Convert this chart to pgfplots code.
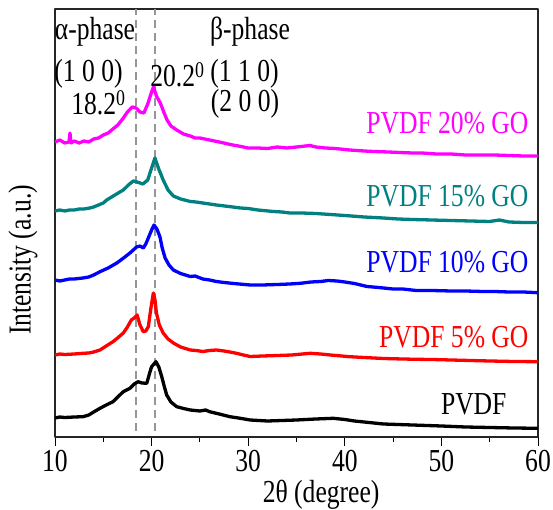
\documentclass[border=0pt]{standalone}
\usepackage{fontspec}
\setmainfont{Liberation Serif}[FakeStretch=0.8]
\usepackage{pgfplots}
\pgfplotsset{compat=1.18}
\definecolor{gomag}{RGB}{255,0,255}
\definecolor{goteal}{RGB}{0,128,128}
\definecolor{goblue}{RGB}{0,0,255}
\definecolor{gored}{RGB}{255,0,0}
\definecolor{dashgray}{RGB}{150,150,150}

\begin{document}
\begin{tikzpicture}[font=\fontsize{32bp}{38bp}\selectfont]
  \begin{axis}[
      scale only axis,
      width=483bp, height=428bp,
      xmin=10, xmax=60,
      ymin=0, ymax=428,
      xtick={10,20,30,40,50,60},
      minor xtick={15,25,35,45,55},
      ytick=\empty,
      xtick pos=bottom,
      tick align=outside,
      major tick length=9bp,
      minor tick length=5bp,
      every tick/.style={black, line width=1bp},
      axis line style={line width=1.2bp, black!85},
      /pgf/number format/assume math mode=true,
      xticklabel style={yshift=-1bp},
      xlabel={2θ (degree)},
      xlabel style={at={(rel axis cs:0.551,0)}, anchor=center, yshift=-58bp},
      every node/.append style={inner sep=0pt},
      line join=round,
    ]

    % dashed guide lines
    \addplot[dashgray, line width=2.2bp, dash pattern=on 8bp off 5bp] coordinates {(18.4,6) (18.4,428)};
    \addplot[dashgray, line width=2.2bp, dash pattern=on 8bp off 5bp] coordinates {(20.35,6) (20.35,428)};

    % PVDF 20% GO
    \addplot[gomag, line width=3.3bp] coordinates {
      (10,295) (10.5,297) (11,294) (11.45,295) (11.55,304) (11.65,294) (12,296)
      (12.5,294) (13,296) (13.5,295) (14,298) (14.5,299) (15,302) (15.5,304)
      (16,308) (16.5,312) (17,318) (17.5,325) (18,330) (18.4,329) (18.8,325)
      (19.2,324) (19.6,333) (20,345) (20.2,350) (20.5,341) (20.9,334) (21.3,324)
      (21.6,317) (22,311) (22.6,307) (23.3,303) (24,301) (24.5,299) (25,299)
      (26,297) (27,295) (28.4,292) (29,291) (30,289) (31,289) (32,288.5) (33,290)
      (34,289) (35,290) (36.4,291.5) (37,290) (38,289) (39,288.5) (40.5,287)
      (42,286) (43,285.5) (44.5,285) (45.7,284.5) (47,284) (48,284) (49.5,283)
      (51,283) (52.5,282) (54,282) (55.5,282) (57,281.5) (58.5,281) (60,281)
    };

    % PVDF 15% GO
    \addplot[goteal, line width=3.3bp] coordinates {
      (10,226) (10.5,227) (11,226) (11.5,227) (12,227) (12.5,228) (13,228)
      (13.6,229) (14,230) (14.5,232) (15,234) (15.35,237) (16.2,242)
      (17.07,247) (17.6,252) (18.1,256) (18.5,255) (19.1,253) (19.6,257)
      (20,269) (20.35,279) (20.7,269) (21.2,257) (21.7,247) (22.25,241)
      (23,238) (24,235.5) (24.6,235) (25.3,234) (26,233) (26.7,232) (28,230.5)
      (29.2,229) (30,228.5) (31,227) (32.6,225.5) (33.5,225) (34.3,224)
      (35.5,224) (37,223.5) (38.5,222.5) (40,221.5) (42,220) (44,219)
      (45.5,218) (47,217.5) (49,217) (51,216.5) (53,216) (55,215.5) (56,217)
      (57,215) (58.5,214.5) (60,214.5)
    };

    % PVDF 10% GO
    \addplot[goblue, line width=3.3bp] coordinates {
      (10,157) (10.5,156) (11,157) (11.5,158) (12,158) (12.9,159) (13.5,160)
      (14,162) (14.66,165.3) (15.5,169) (16.4,174) (17.1,179) (17.76,184)
      (18.45,190) (18.8,191) (19.14,189) (19.4,193) (19.66,199) (20,207)
      (20.25,212) (20.55,208) (20.87,200) (21.1,189) (21.4,179) (21.8,172)
      (22.25,167) (23,163.5) (24,160.5) (24.5,161) (25.3,158) (26,157)
      (26.7,155.5) (27.5,154.5) (28.5,153.5) (30.2,152) (31.5,152) (33,152.5)
      (34.3,153) (35.4,153.7) (36.5,155) (37.5,155.5) (38.3,156.5) (39.2,156)
      (40,155) (41,153.5) (42.3,150.5) (43.5,149.5) (45,148) (46,148)
      (47.4,146.5) (49,146.5) (51,146) (52.5,146) (54.3,145.5) (55.5,145.5)
      (57,145) (58.5,145) (60,144.3)
    };

    % PVDF 5% GO
    \addplot[gored, line width=3.3bp] coordinates {
      (10,82) (10.5,83) (11,82.5) (12,83) (12.9,83.7) (13.5,84) (14,85)
      (14.66,87) (15.3,91) (16,95.3) (16.6,100) (17.07,104) (17.5,110)
      (17.9,117) (18.2,119) (18.5,122) (18.8,112) (19.14,105.3) (19.4,106)
      (19.66,110.3) (19.9,127) (20.18,144) (20.35,137) (20.5,124) (20.8,112)
      (21.2,104) (21.7,98) (22.25,94) (23,90) (24,87) (24.6,86.5) (25.3,85.5)
      (26,86.5) (26.7,87) (27.5,86) (28.1,85) (28.8,83.7) (29.5,82) (30.2,80.5)
      (31.5,81) (33,81.5) (34.5,82) (36.4,83.7) (37.5,83) (38.5,82) (40.5,80.3)
      (42,79.5) (44,78.5) (46,78) (47.4,77.7) (49,77.5) (51,77) (53,76.5)
      (55,76) (57.5,75.5) (60,75.3)
    };

    % PVDF
    \addplot[black, line width=3.3bp] coordinates {
      (10,19) (10.5,20) (11,19.5) (12,20) (12.9,20.3) (13.5,22) (14,25)
      (14.66,28.7) (15.3,32) (16,35.3) (16.6,41) (17.07,45.3) (17.76,48.7)
      (18.2,53) (18.6,55.3) (19,54) (19.5,53.7) (19.8,64) (20,70.3)
      (20.45,75.3) (20.75,70) (21.05,60.3) (21.3,51) (21.56,42) (22,35)
      (22.6,30.3) (23.3,28.5) (24,27) (25,26) (25.6,27) (26,25.3) (27,23)
      (28.1,20.3) (29,19) (30.2,17) (32,16) (33.5,16.5) (35,17) (37,18)
      (38.8,18.7) (40,17.5) (41,16) (42.5,14.5) (44,13) (45.5,12.5) (47,12)
      (48.5,11.5) (50,11) (52.5,10) (55,9.5) (57.5,9) (60,8.7)
    };

    % annotations
    \node at (axis cs:14.14,405.5) {α-phase};
    \node at (axis cs:13.47,363.5) {(1 0 0)};
    \node at (axis cs:14.5,334) {18.2\textsuperscript{0}};
    \node at (axis cs:22.68,362) {20.2\textsuperscript{0}};
    \node at (axis cs:30.19,405) {β-phase};
    \node at (axis cs:29.62,363.5) {(1 1 0)};
    \node at (axis cs:29.67,333) {(2 0 0)};

    \node[anchor=east, text=gomag] at (axis cs:59.38,314) {PVDF 20\% GO};
    \node[anchor=east, text=goteal] at (axis cs:59.38,241) {PVDF 15\% GO};
    \node[anchor=east, text=goblue] at (axis cs:59.38,175) {PVDF 10\% GO};
    \node[anchor=east, text=gored] at (axis cs:59.38,100) {PVDF 5\% GO};
    \node[anchor=east, text=black] at (axis cs:57.1,33) {PVDF};
  \end{axis}
  \node[rotate=90, inner sep=0pt] at ([shift={(-32bp,177bp)}]current axis.south west) {Intensity (a.u.)};
  \pgfresetboundingbox
  \path ([shift={(-55bp,-73bp)}]current axis.south west) rectangle ([shift={(15bp,9bp)}]current axis.north east);
\end{tikzpicture}
\end{document}
